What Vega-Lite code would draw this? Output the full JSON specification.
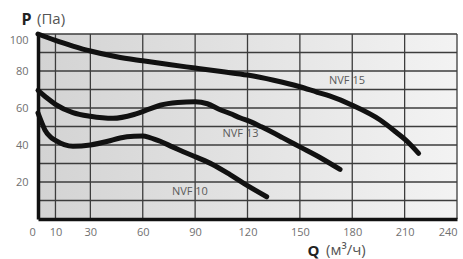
{
  "$schema": "https://vega.github.io/schema/vega-lite/v6.json",
  "width": 419,
  "height": 185,
  "autosize": {"type": "none"},
  "padding": {"left": 38, "top": 34, "right": 6, "bottom": 40},
  "background": "white",
  "view": {"stroke": null},
  "config": {"font": "Open Sans", "rule": {"color": "#3c3c3c", "strokeWidth": 1.3}},
  "resolve": {"axis": {"x": "independent", "y": "independent"}},
  "datasets": {
    "curves": [
      {"series": "NVF 15", "q": 0, "p": 100},
      {"series": "NVF 15", "q": 10, "p": 96.5},
      {"series": "NVF 15", "q": 20, "p": 93.5},
      {"series": "NVF 15", "q": 30, "p": 90.8},
      {"series": "NVF 15", "q": 45, "p": 87.7},
      {"series": "NVF 15", "q": 60, "p": 85.5},
      {"series": "NVF 15", "q": 75, "p": 83.5},
      {"series": "NVF 15", "q": 90, "p": 81.6},
      {"series": "NVF 15", "q": 105, "p": 79.7},
      {"series": "NVF 15", "q": 120, "p": 77.8},
      {"series": "NVF 15", "q": 135, "p": 75},
      {"series": "NVF 15", "q": 150, "p": 71.5},
      {"series": "NVF 15", "q": 160, "p": 68.5},
      {"series": "NVF 15", "q": 167, "p": 66.5},
      {"series": "NVF 15", "q": 180, "p": 61.5},
      {"series": "NVF 15", "q": 196, "p": 53.5},
      {"series": "NVF 15", "q": 205, "p": 47},
      {"series": "NVF 15", "q": 212, "p": 41.5},
      {"series": "NVF 15", "q": 218, "p": 35.5},
      {"series": "NVF 13", "q": 0, "p": 69.5},
      {"series": "NVF 13", "q": 5, "p": 65.5},
      {"series": "NVF 13", "q": 10, "p": 62},
      {"series": "NVF 13", "q": 20, "p": 57.5},
      {"series": "NVF 13", "q": 30, "p": 55.5},
      {"series": "NVF 13", "q": 43, "p": 54.4},
      {"series": "NVF 13", "q": 55, "p": 56.5},
      {"series": "NVF 13", "q": 64, "p": 59.5},
      {"series": "NVF 13", "q": 70, "p": 61.5},
      {"series": "NVF 13", "q": 80, "p": 63},
      {"series": "NVF 13", "q": 90, "p": 63.4},
      {"series": "NVF 13", "q": 97, "p": 62.3},
      {"series": "NVF 13", "q": 104, "p": 59.2},
      {"series": "NVF 13", "q": 110, "p": 57},
      {"series": "NVF 13", "q": 116, "p": 54.6},
      {"series": "NVF 13", "q": 122, "p": 52.5},
      {"series": "NVF 13", "q": 128, "p": 49.8},
      {"series": "NVF 13", "q": 140, "p": 44},
      {"series": "NVF 13", "q": 150, "p": 39},
      {"series": "NVF 13", "q": 162, "p": 33},
      {"series": "NVF 13", "q": 173, "p": 26.8},
      {"series": "NVF 10", "q": 0, "p": 57.3},
      {"series": "NVF 10", "q": 2, "p": 52.5},
      {"series": "NVF 10", "q": 4, "p": 48},
      {"series": "NVF 10", "q": 7, "p": 44.5},
      {"series": "NVF 10", "q": 10, "p": 42.5},
      {"series": "NVF 10", "q": 15, "p": 40.2},
      {"series": "NVF 10", "q": 20, "p": 39.3},
      {"series": "NVF 10", "q": 30, "p": 40},
      {"series": "NVF 10", "q": 40, "p": 42},
      {"series": "NVF 10", "q": 47, "p": 43.8},
      {"series": "NVF 10", "q": 55, "p": 44.7},
      {"series": "NVF 10", "q": 60, "p": 44.8},
      {"series": "NVF 10", "q": 64, "p": 44},
      {"series": "NVF 10", "q": 70, "p": 42},
      {"series": "NVF 10", "q": 77, "p": 39},
      {"series": "NVF 10", "q": 81, "p": 37.3},
      {"series": "NVF 10", "q": 91, "p": 33.3},
      {"series": "NVF 10", "q": 100, "p": 29.5},
      {"series": "NVF 10", "q": 110, "p": 24},
      {"series": "NVF 10", "q": 120, "p": 18},
      {"series": "NVF 10", "q": 131, "p": 12}
    ],
    "labels": [
      {"label": "NVF 15", "q": 177, "p": 74.8},
      {"label": "NVF 13", "q": 116, "p": 46},
      {"label": "NVF 10", "q": 87, "p": 14.8}
    ]
  },
  "layer": [
    {
      "data": {"values": [{}]},
      "mark": {"type": "rect",
        "color": {"gradient": "linear", "x1": 0, "y1": 0, "x2": 1, "y2": 0,
          "stops": [{"offset": 0, "color": "#d3d3d3"}, {"offset": 1, "color": "#f3f3f3"}]}},
      "encoding": {
        "x": {"datum": 0, "type": "quantitative", "axis": null},
        "x2": {"datum": 240},
        "y": {"datum": 0, "type": "quantitative", "axis": null},
        "y2": {"datum": 100}
      }
    },
    {"data": {"values": [{}]}, "mark": "rule", "encoding": {"x": {"datum": 10, "type": "quantitative", "axis": null}}},
    {"data": {"values": [{}]}, "mark": "rule", "encoding": {"x": {"datum": 30, "type": "quantitative", "axis": null}}},
    {"data": {"values": [{}]}, "mark": "rule", "encoding": {"x": {"datum": 60, "type": "quantitative", "axis": null}}},
    {"data": {"values": [{}]}, "mark": "rule", "encoding": {"x": {"datum": 90, "type": "quantitative", "axis": null}}},
    {"data": {"values": [{}]}, "mark": "rule", "encoding": {"x": {"datum": 120, "type": "quantitative", "axis": null}}},
    {"data": {"values": [{}]}, "mark": "rule", "encoding": {"x": {"datum": 150, "type": "quantitative", "axis": null}}},
    {"data": {"values": [{}]}, "mark": "rule", "encoding": {"x": {"datum": 180, "type": "quantitative", "axis": null}}},
    {"data": {"values": [{}]}, "mark": "rule", "encoding": {"x": {"datum": 210, "type": "quantitative", "axis": null}}},
    {"data": {"values": [{}]}, "mark": "rule", "encoding": {"x": {"datum": 240, "type": "quantitative", "axis": null}}},
    {"data": {"values": [{}]}, "mark": "rule", "encoding": {"y": {"datum": 10, "type": "quantitative", "axis": null}}},
    {"data": {"values": [{}]}, "mark": "rule", "encoding": {"y": {"datum": 20, "type": "quantitative", "axis": null}}},
    {"data": {"values": [{}]}, "mark": "rule", "encoding": {"y": {"datum": 30, "type": "quantitative", "axis": null}}},
    {"data": {"values": [{}]}, "mark": "rule", "encoding": {"y": {"datum": 40, "type": "quantitative", "axis": null}}},
    {"data": {"values": [{}]}, "mark": "rule", "encoding": {"y": {"datum": 50, "type": "quantitative", "axis": null}}},
    {"data": {"values": [{}]}, "mark": "rule", "encoding": {"y": {"datum": 60, "type": "quantitative", "axis": null}}},
    {"data": {"values": [{}]}, "mark": "rule", "encoding": {"y": {"datum": 70, "type": "quantitative", "axis": null}}},
    {"data": {"values": [{}]}, "mark": "rule", "encoding": {"y": {"datum": 80, "type": "quantitative", "axis": null}}},
    {"data": {"values": [{}]}, "mark": "rule", "encoding": {"y": {"datum": 90, "type": "quantitative", "axis": null}}},
    {"data": {"values": [{}]}, "mark": "rule", "encoding": {"y": {"datum": 100, "type": "quantitative", "axis": null}}},
    {
      "data": {"name": "curves"},
      "mark": {"type": "line", "strokeWidth": 5, "color": "#111111", "strokeCap": "round", "strokeJoin": "round", "interpolate": "monotone"},
      "encoding": {
        "x": {
          "field": "q", "type": "quantitative",
          "scale": {"domain": [0, 240], "nice": false},
          "axis": {
            "values": [0, 10, 30, 60, 90, 120, 150, 180, 210, 240],
            "grid": false, "zindex": 1,
            "domain": true, "domainColor": "#111111", "domainWidth": 3.5,
            "ticks": false, "labelPadding": 7, "labelFontSize": 11, "labelColor": "#707070",
            "labelOffset": {"condition": {"test": "datum.value == 0", "value": -9}, "value": 0},
            "title": "Q", "titleFontWeight": "bold", "titleFontSize": 15, "titleColor": "#222222",
            "titleAlign": "left", "titleBaseline": "middle", "titleX": 269, "titleY": 31
          }
        },
        "y": {
          "field": "p", "type": "quantitative",
          "scale": {"domain": [0, 100], "nice": false},
          "axis": {
            "values": [20, 40, 60, 80, 100],
            "grid": false, "zindex": 1,
            "domain": true, "domainColor": "#111111", "domainWidth": 3.5,
            "ticks": false, "labelPadding": 10, "labelFontSize": 11, "labelColor": "#707070",
            "labelFlush": true,
            "title": "P", "titleFontWeight": "bold", "titleFontSize": 16, "titleColor": "#222222",
            "titleAngle": 0, "titleAlign": "left", "titleBaseline": "middle", "titleX": -17, "titleY": -15
          }
        },
        "detail": {"field": "series", "type": "nominal"}
      }
    },
    {
      "data": {"name": "labels"},
      "mark": {"type": "text", "fontSize": 11, "color": "#5a5a5a", "align": "center", "baseline": "middle"},
      "encoding": {
        "x": {"field": "q", "type": "quantitative", "axis": null},
        "y": {"field": "p", "type": "quantitative", "axis": null},
        "text": {"field": "label", "type": "nominal"}
      }
    },
    {
      "data": {"values": [{"unit": "(Па)"}]},
      "mark": {"type": "text", "fontSize": 15, "color": "#555555", "align": "left", "baseline": "middle", "dx": -1},
      "encoding": {
        "x": {"datum": 0, "type": "quantitative", "axis": null, "scale": {"domain": [0, 240], "nice": false}},
        "y": {"datum": 108, "type": "quantitative", "axis": null, "scale": {"domain": [0, 100], "nice": false}},
        "text": {"field": "unit", "type": "nominal"}
      }
    },
    {
      "data": {"values": [{"unit": "(м³/ч)"}]},
      "mark": {"type": "text", "fontSize": 15, "color": "#555555", "align": "left", "baseline": "middle"},
      "encoding": {
        "x": {"datum": 165, "type": "quantitative", "axis": null, "scale": {"domain": [0, 240], "nice": false}},
        "y": {"datum": -16.8, "type": "quantitative", "axis": null, "scale": {"domain": [0, 100], "nice": false}},
        "text": {"field": "unit", "type": "nominal"}
      }
    }
  ]
}
